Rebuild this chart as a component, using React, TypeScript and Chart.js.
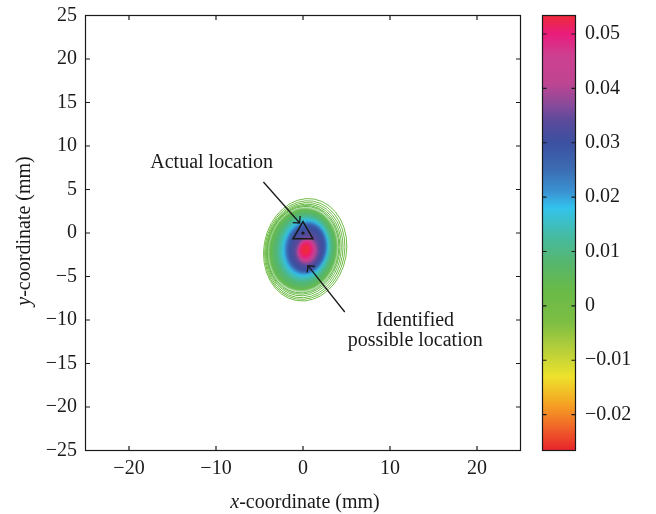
import React, { useEffect, useRef } from "react";
import { Chart, registerables } from "chart.js";

Chart.register(...registerables);

// Axis ticks
const xTicks = [-20, -10, 0, 10, 20];
const yTicks = [-25, -20, -15, -10, -5, 0, 5, 10, 15, 20, 25];
const axisMin = -25;
const axisMax = 25;

// Colour bar
const cbTicks = [-0.02, -0.01, 0, 0.01, 0.02, 0.03, 0.04, 0.05];
const cbMin = -0.0266;
const cbMax = 0.0534;

// Colour map stops (value -> colour)
const cmapValues = [-0.0266, -0.022, -0.018, -0.013, -0.008, -0.003, 0.003, 0.008, 0.013, 0.018, 0.021, 0.025, 0.03, 0.034, 0.037, 0.041, 0.046, 0.05, 0.0534];
const cmapColors = ["#e8232b", "#f06a28", "#f5a423", "#eee22c", "#b5cf3a", "#7dbe43", "#68ba48", "#56b66e", "#45bba5", "#33c3ec", "#3a92d2", "#3c6db3", "#3c50a1", "#5a4a9b", "#8a4a9a", "#bf4591", "#cd4090", "#ea1c7c", "#ee2a3a"];

// Filled contour levels of the estimated source map (centre, semi-axes in mm)
const fillLevels = [0.004, 0.008, 0.012, 0.015, 0.018, 0.021, 0.024, 0.027, 0.03, 0.032, 0.034, 0.037, 0.04, 0.043, 0.046, 0.048, 0.05, 0.052, 0.053];
const fillCx = [0.0, 0.08, 0.16, 0.22, 0.27, 0.31, 0.35, 0.38, 0.4, 0.43, 0.46, 0.48, 0.46, 0.43, 0.4, 0.38, 0.35, 0.31, 0.29];
const fillCy = [-1.9, -1.85, -1.8, -1.76, -1.73, -1.72, -1.72, -1.72, -1.75, -1.85, -1.95, -2.05, -2.05, -2.02, -2.0, -2.0, -1.97, -1.94, -1.92];
const fillRx = [4.0, 3.55, 3.1, 2.8, 2.57, 2.42, 2.28, 2.18, 2.02, 1.75, 1.5, 1.24, 1.08, 0.95, 0.85, 0.77, 0.65, 0.55, 0.45];
const fillRy = [4.85, 4.35, 3.85, 3.52, 3.27, 3.08, 2.9, 2.78, 2.6, 2.22, 1.88, 1.53, 1.36, 1.24, 1.13, 1.05, 0.85, 0.7, 0.55];

// Low-level contour lines around the filled region
const lineLevels = [0.0005, 0.001, 0.0017, 0.0024, 0.003, 0.0035];
const lineCx = [0.25, 0.2, 0.15, 0.1, 0.05, 0.02];
const lineCy = [-1.93, -1.96, -1.97, -1.95, -1.93, -1.91];
const lineRx = [4.75, 4.58, 4.42, 4.28, 4.16, 4.07];
const lineRy = [5.92, 5.7, 5.5, 5.3, 5.13, 5.0];
const contourTiltDeg = 10;

// Actual source location
const actualX = [0];
const actualY = [0];

// Annotations
const noteText = ["Actual location", "Identified", "possible location"];
const noteX = [-10.5, 12.9, 12.9];
const noteY = [7.5, -10.74, -13.03];
const arrowFromX = [-4.55, 4.8];
const arrowFromY = [5.86, -9.08];
const arrowToX = [-0.38, 0.57];
const arrowToY = [1.15, -3.76];

const FAMILY = "'Liberation Serif', 'Times New Roman', serif";
const FONT_SIZE = 20;
const INK = "#1a1a1a";
const CLEAR = "rgba(0,0,0,0)";

function hexToRgb(h: string): number[] {
  const n = parseInt(h.slice(1), 16);
  return [(n >> 16) & 255, (n >> 8) & 255, n & 255];
}

function colorAt(v: number): string {
  if (v <= cmapValues[0]) return cmapColors[0];
  const last = cmapValues.length - 1;
  if (v >= cmapValues[last]) return cmapColors[last];
  for (let i = 0; i < last; i++) {
    const a = cmapValues[i];
    const b = cmapValues[i + 1];
    if (v >= a && v <= b) {
      const t = (v - a) / (b - a);
      const ca = hexToRgb(cmapColors[i]);
      const cb = hexToRgb(cmapColors[i + 1]);
      const c = ca.map((x, k) => Math.round(x + (cb[k] - x) * t));
      return `rgb(${c[0]},${c[1]},${c[2]})`;
    }
  }
  return cmapColors[last];
}

function signed(v: number, digits: number): string {
  if (Math.abs(v) < 1e-12) return "0";
  const s = Math.abs(v).toFixed(digits);
  return v < 0 ? "\u2212" + s : s;
}

const contourPlugin = {
  id: "contourMap",
  beforeDatasetsDraw(chart: any) {
    const { ctx, chartArea } = chart;
    const x = chart.scales.x;
    const y = chart.scales.y;
    const sx = x.getPixelForValue(1) - x.getPixelForValue(0);
    const sy = y.getPixelForValue(0) - y.getPixelForValue(1);
    const rot = (contourTiltDeg * Math.PI) / 180;
    ctx.save();
    ctx.beginPath();
    ctx.rect(chartArea.left, chartArea.top, chartArea.right - chartArea.left, chartArea.bottom - chartArea.top);
    ctx.clip();
    ctx.lineWidth = 1;
    lineLevels.forEach((lv, i) => {
      ctx.strokeStyle = colorAt(lv);
      ctx.beginPath();
      ctx.ellipse(x.getPixelForValue(lineCx[i]), y.getPixelForValue(lineCy[i]), lineRx[i] * sx, lineRy[i] * sy, rot, 0, Math.PI * 2);
      ctx.stroke();
    });
    ctx.filter = "blur(0.8px)";
    fillLevels.forEach((lv, i) => {
      ctx.fillStyle = colorAt(lv);
      ctx.beginPath();
      ctx.ellipse(x.getPixelForValue(fillCx[i]), y.getPixelForValue(fillCy[i]), fillRx[i] * sx, fillRy[i] * sy, rot, 0, Math.PI * 2);
      ctx.fill();
    });
    ctx.restore();
  },
  afterDatasetsDraw(chart: any) {
    const { ctx } = chart;
    const x = chart.scales.x;
    const y = chart.scales.y;
    ctx.save();
    // arrows
    ctx.strokeStyle = INK;
    ctx.lineWidth = 1.3;
    arrowFromX.forEach((_, i) => {
      const x0 = x.getPixelForValue(arrowFromX[i]);
      const y0 = y.getPixelForValue(arrowFromY[i]);
      const x1 = x.getPixelForValue(arrowToX[i]);
      const y1 = y.getPixelForValue(arrowToY[i]);
      const back = Math.atan2(y0 - y1, x0 - x1);
      const len = 7;
      ctx.beginPath();
      ctx.moveTo(x0, y0);
      ctx.lineTo(x1, y1);
      ctx.moveTo(x1 + Math.cos(back - Math.PI / 4) * len, y1 + Math.sin(back - Math.PI / 4) * len);
      ctx.lineTo(x1, y1);
      ctx.lineTo(x1 + Math.cos(back + Math.PI / 4) * len, y1 + Math.sin(back + Math.PI / 4) * len);
      ctx.stroke();
    });
    // notes
    ctx.fillStyle = INK;
    ctx.font = `${FONT_SIZE}px ${FAMILY}`;
    ctx.textAlign = "center";
    ctx.textBaseline = "alphabetic";
    noteText.forEach((t, i) => {
      ctx.fillText(t, x.getPixelForValue(noteX[i]), y.getPixelForValue(noteY[i]));
    });
    ctx.restore();
  },
  afterDraw(chart: any) {
    const { ctx, chartArea } = chart;
    const x = chart.scales.x;
    const y = chart.scales.y;
    const cb = chart.scales.cb;
    const tick = 4.5;
    ctx.save();
    // plot frame with inward ticks on all four sides
    ctx.strokeStyle = INK;
    ctx.lineWidth = 1.2;
    ctx.strokeRect(chartArea.left, chartArea.top, chartArea.right - chartArea.left, chartArea.bottom - chartArea.top);
    ctx.beginPath();
    xTicks.forEach((v) => {
      const p = x.getPixelForValue(v);
      ctx.moveTo(p, chartArea.bottom);
      ctx.lineTo(p, chartArea.bottom - tick);
      ctx.moveTo(p, chartArea.top);
      ctx.lineTo(p, chartArea.top + tick);
    });
    yTicks.forEach((v) => {
      const p = y.getPixelForValue(v);
      ctx.moveTo(chartArea.left, p);
      ctx.lineTo(chartArea.left + tick, p);
      ctx.moveTo(chartArea.right, p);
      ctx.lineTo(chartArea.right - tick, p);
    });
    ctx.stroke();

    // colour bar
    const barL = cb.left + 22;
    const barR = cb.left + 55;
    const pMin = cb.getPixelForValue(cbMin);
    const pMax = cb.getPixelForValue(cbMax);
    const grad = ctx.createLinearGradient(0, pMin, 0, pMax);
    cmapValues.forEach((v, i) => {
      grad.addColorStop((v - cbMin) / (cbMax - cbMin), cmapColors[i]);
    });
    ctx.fillStyle = grad;
    ctx.fillRect(barL, pMax, barR - barL, pMin - pMax);
    ctx.strokeRect(barL, pMax, barR - barL, pMin - pMax);
    ctx.beginPath();
    cbTicks.forEach((v) => {
      const p = cb.getPixelForValue(v);
      ctx.moveTo(barL, p);
      ctx.lineTo(barL + 4, p);
      ctx.moveTo(barR, p);
      ctx.lineTo(barR - 4, p);
    });
    ctx.stroke();

    // axis titles with italic variable letter
    ctx.fillStyle = INK;
    ctx.textBaseline = "alphabetic";
    const italic = `italic ${FONT_SIZE}px ${FAMILY}`;
    const upright = `${FONT_SIZE}px ${FAMILY}`;
    const drawTitle = (v: string, rest: string, cx: number, base: number) => {
      ctx.font = italic;
      const w1 = ctx.measureText(v).width;
      ctx.font = upright;
      const w2 = ctx.measureText(rest).width;
      const start = cx - (w1 + w2) / 2;
      ctx.textAlign = "left";
      ctx.font = italic;
      ctx.fillText(v, start, base);
      ctx.font = upright;
      ctx.fillText(rest, start + w1, base);
    };
    drawTitle("x", "-coordinate (mm)", (chartArea.left + chartArea.right) / 2 + 2, 508);
    ctx.translate(29.5, (chartArea.top + chartArea.bottom) / 2 - 2);
    ctx.rotate(-Math.PI / 2);
    drawTitle("y", "-coordinate (mm)", 0, 0);
    ctx.restore();
  },
};

// Invisible tick marks are used only to offset the labels from the axis line
function spacer(len: number) {
  return { display: true, drawOnChartArea: false, drawTicks: true, tickLength: len, tickColor: CLEAR, color: CLEAR };
}

export default function App() {
  const canvasRef = useRef<HTMLCanvasElement | null>(null);

  useEffect(() => {
    document.body.style.margin = "0";
    const canvas = canvasRef.current;
    if (!canvas) return;
    const tickFont = { family: FAMILY, size: FONT_SIZE };
    const points = actualX.map((v, i) => ({ x: v, y: actualY[i] }));
    const chart = new Chart(canvas, {
      type: "scatter",
      data: {
        datasets: [
          {
            data: points,
            pointStyle: "triangle",
            pointRadius: 11.5,
            borderColor: INK,
            borderWidth: 1.5,
            backgroundColor: CLEAR,
          },
          {
            data: points,
            pointStyle: "circle",
            pointRadius: 1.6,
            borderWidth: 0,
            backgroundColor: INK,
          },
        ],
      },
      options: {
        responsive: false,
        animation: false,
        devicePixelRatio: 1,
        layout: { padding: { top: 15.5, left: 0, right: 0, bottom: 0 } },
        plugins: { legend: { display: false }, tooltip: { enabled: false } },
        events: [],
        scales: {
          x: {
            type: "linear",
            position: "bottom",
            min: axisMin,
            max: axisMax,
            grid: spacer(6.5),
            border: { display: false },
            ticks: {
              font: tickFont,
              color: INK,
              padding: 0,
              maxRotation: 0,
              autoSkip: false,
              callback: (v: any) => signed(Number(v), 0),
            },
            afterBuildTicks: (s: any) => {
              s.ticks = xTicks.map((v) => ({ value: v }));
            },
            afterFit: (s: any) => {
              s.height = 63.5;
            },
          },
          y: {
            type: "linear",
            position: "left",
            min: axisMin,
            max: axisMax,
            grid: spacer(8.5),
            border: { display: false },
            ticks: {
              font: tickFont,
              color: INK,
              padding: 0,
              autoSkip: false,
              callback: (v: any) => signed(Number(v), 0),
            },
            afterBuildTicks: (s: any) => {
              s.ticks = yTicks.map((v) => ({ value: v }));
            },
            afterFit: (s: any) => {
              s.width = 85.5;
            },
          },
          cb: {
            type: "linear",
            position: "right",
            min: cbMin,
            max: cbMax,
            grid: spacer(64.5),
            border: { display: false },
            ticks: {
              font: tickFont,
              color: INK,
              padding: 0,
              autoSkip: false,
              callback: (v: any) => signed(Number(v), 2),
            },
            afterBuildTicks: (s: any) => {
              s.ticks = cbTicks.map((v) => ({ value: v }));
            },
            afterFit: (s: any) => {
              s.width = 135.5;
            },
          },
        },
      },
      plugins: [contourPlugin],
    } as any);
    return () => chart.destroy();
  }, []);

  return (
    <div style={{ width: 656, height: 514, background: "#fff" }}>
      <canvas ref={canvasRef} width={656} height={514} style={{ display: "block" }} />
    </div>
  );
}
